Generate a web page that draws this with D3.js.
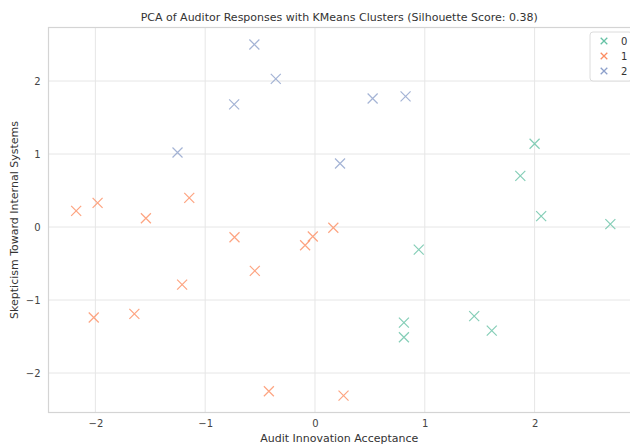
<!DOCTYPE html>
<html><head><meta charset="utf-8">
<script src="https://cdn.jsdelivr.net/npm/d3@7"></script>
<style>body{margin:0;background:#fff;} text{font-family:"DejaVu Sans",sans-serif;}</style>
</head><body><svg id="c" width="630" height="446"></svg>
<script>
const clusters = ["0", "1", "2"];
const colors = ["#66c2a5", "#fc8d62", "#8da0cb"];
const xTicks = [-2, -1, 0, 1, 2];
const yTicks = [-2, -1, 0, 1, 2];
const cluster0 = [[2.00,1.14],[1.87,0.70],[2.06,0.15],[2.69,0.04],[0.945,-0.31],[0.81,-1.31],[0.81,-1.51],[1.45,-1.22],[1.61,-1.42]];
const cluster1 = [[-2.175,0.22],[-1.98,0.33],[-1.54,0.12],[-1.145,0.40],[-0.733,-0.14],[-0.548,-0.60],[-1.21,-0.79],[-2.015,-1.24],[-1.645,-1.19],[-0.09,-0.25],[-0.02,-0.13],[0.167,-0.01],[-0.42,-2.25],[0.26,-2.31]];
const cluster2 = [[-0.552,2.50],[-0.357,2.03],[-0.736,1.68],[-1.252,1.02],[0.525,1.76],[0.825,1.79],[0.228,0.87]];
const seriesData = [cluster0, cluster1, cluster2];

const svg = d3.select("#c");
const L = 48.5, R = 630, T = 27.5, B = 412.5;
const x = d3.scaleLinear().domain([-2.427, 2.869]).range([L, R]);
const y = d3.scaleLinear().domain([-2.541, 2.733]).range([B, T]);

const g = svg.append("g");
// grid
g.selectAll(".gx").data(xTicks).join("line").attr("x1", d=>x(d)).attr("x2", d=>x(d)).attr("y1", T).attr("y2", B).attr("stroke", "#e6e6e6").attr("stroke-width", 1);
g.selectAll(".gy").data(yTicks).join("line").attr("y1", d=>y(d)).attr("y2", d=>y(d)).attr("x1", L).attr("x2", R).attr("stroke", "#e6e6e6").attr("stroke-width", 1);
// frame
g.append("rect").attr("x", L).attr("y", T).attr("width", R - L + 5).attr("height", B - T).attr("fill", "none").attr("stroke", "#d4d4d4").attr("stroke-width", 1.2);

// axes labels via d3 axes
const fmt = d => d < 0 ? "\u2212" + Math.abs(d) : String(d);
const xa = svg.append("g").attr("transform", `translate(0,${B})`).call(d3.axisBottom(x).tickValues(xTicks).tickFormat(fmt).tickSize(0).tickPadding(7));
const ya = svg.append("g").attr("transform", `translate(${L},0)`).call(d3.axisLeft(y).tickValues(yTicks).tickFormat(fmt).tickSize(0).tickPadding(8));
[xa, ya].forEach(a => { a.select(".domain").remove(); a.selectAll("text").attr("fill", "#444").style("font-size", "10px").style("font-family", "DejaVu Sans"); });

// points
const s = 5;
seriesData.forEach((data, i) => {
  const pg = svg.append("g");
  pg.selectAll("path").data(data).join("path")
    .attr("d", d => { const cx = x(d[0]), cy = y(d[1]); return `M${cx-s},${cy-s}L${cx+s},${cy+s}M${cx-s},${cy+s}L${cx+s},${cy-s}`; })
    .attr("stroke", colors[i]).attr("stroke-width", 1.2).attr("fill", "none").attr("opacity", 0.8);
});

// title and axis titles
svg.append("text").attr("x", (L + R) / 2).attr("y", 21).attr("text-anchor", "middle").style("font-size", "11px").attr("fill", "#333").text("PCA of Auditor Responses with KMeans Clusters (Silhouette Score: 0.38)");
svg.append("text").attr("x", (L + R) / 2).attr("y", 442).attr("text-anchor", "middle").style("font-size", "11px").attr("fill", "#333").text("Audit Innovation Acceptance");
svg.append("text").attr("transform", `translate(18,${(T + B) / 2}) rotate(-90)`).attr("text-anchor", "middle").style("font-size", "11px").attr("fill", "#333").text("Skepticism Toward Internal Systems");

// legend
const lg = svg.append("g");
lg.append("rect").attr("x", 590).attr("y", 32).attr("width", 42).attr("height", 49).attr("rx", 3).attr("fill", "#fff").attr("stroke", "#dcdcdc");
clusters.forEach((c, i) => {
  const cy = 41 + i * 15, cx = 604, ls = 3.3;
  lg.append("path").attr("d", `M${cx-ls},${cy-ls}L${cx+ls},${cy+ls}M${cx-ls},${cy+ls}L${cx+ls},${cy-ls}`).attr("stroke", colors[i]).attr("stroke-width", 1.3).attr("fill", "none");
  lg.append("text").attr("x", 621).attr("y", cy + 3.5).style("font-size", "10px").attr("fill", "#333").text(c);
});
</script></body></html>
